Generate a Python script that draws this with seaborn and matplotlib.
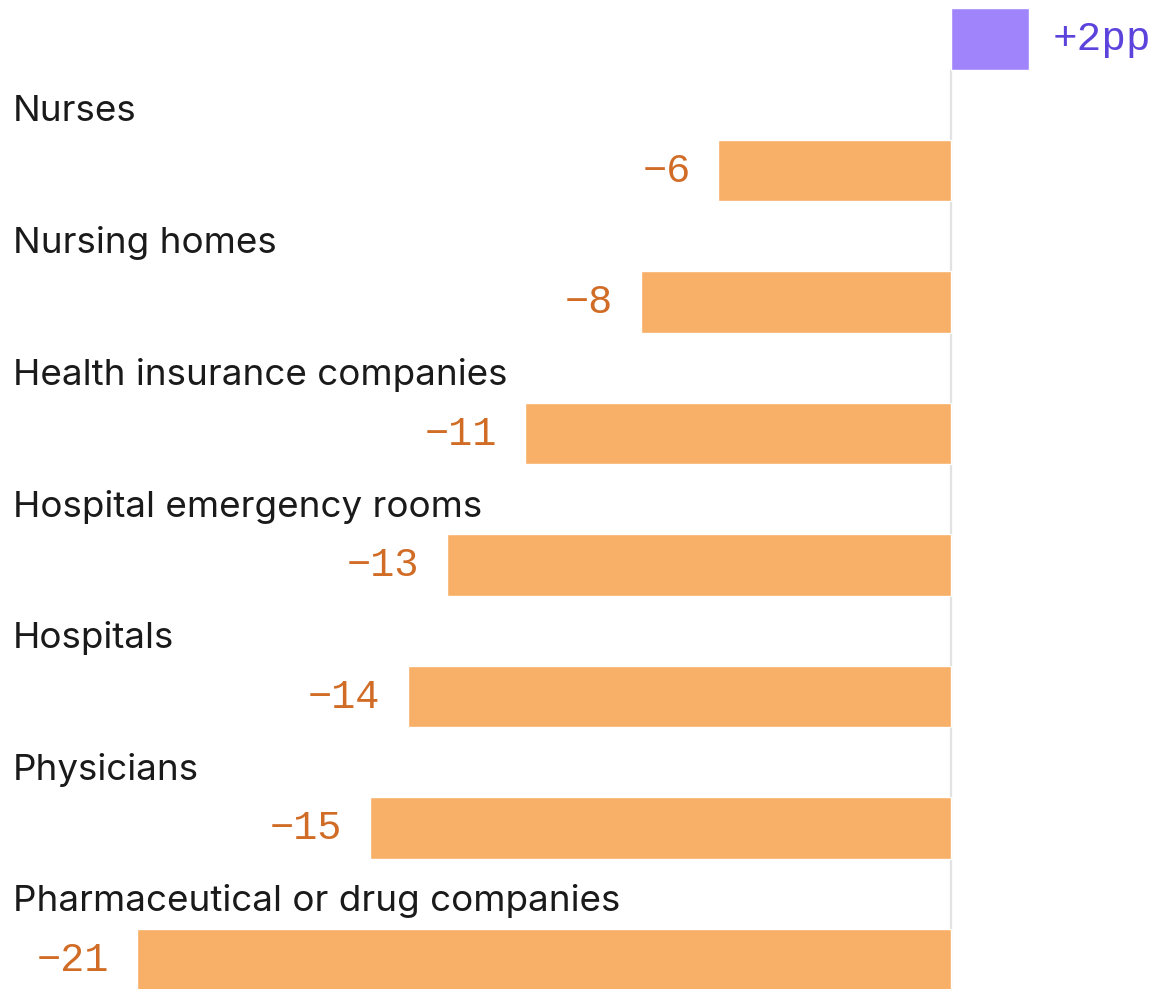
import matplotlib
matplotlib.use("Agg")
import matplotlib.pyplot as plt
import seaborn as sns
import pandas as pd

# Change in trust, percentage points, one row per institution (top row's title sits above the frame)
categories = [None, "Nurses", "Nursing homes", "Health insurance companies",
              "Hospital emergency rooms", "Hospitals", "Physicians",
              "Pharmaceutical or drug companies"]
changes = [2, -6, -8, -11, -13, -14, -15, -21]
value_labels = ["+2pp", "\u22126", "\u22128", "\u221211", "\u221213", "\u221214", "\u221215", "\u221221"]

df = pd.DataFrame({
    "row": range(len(changes)),
    "change": changes,
    "sign": ["up" if v > 0 else "down" for v in changes],
})

bar_colors = {"up": "#A084FC", "down": "#F8AF67"}
text_colors = {"up": "#5B43DB", "down": "#D16C26"}

sns.set_theme(style="white")
plt.rcParams["font.family"] = ["Inter", "DejaVu Sans"]

fig = plt.figure(figsize=(11.58, 9.89), dpi=100)
ax = fig.add_axes([0, 0, 1, 1])

BAR_H = 0.465
# zero guide line, behind the bars
ax.plot([0, 0], [0 + BAR_H / 2, 7.5], color="#E2E2E2", lw=1.6, zorder=0)

sns.barplot(data=df, x="change", y="row", hue="sign", palette=bar_colors,
            orient="h", native_scale=True, dodge=False, width=BAR_H,
            legend=False, saturation=1, ax=ax, zorder=2)

ax.set_xlim(-24.535, 5.34)
ax.set_ylim(7.224, -0.2966)

for i, (cat, v, lab, s) in enumerate(zip(categories, changes, value_labels, df["sign"])):
    if cat:
        ax.text(-24.2, i - 0.445, cat, ha="left", va="center",
                fontsize=26.5, color="#1A1A1A")
    if v > 0:
        ax.text(v + 0.62, i, lab, ha="left", va="center",
                family="Liberation Mono", fontsize=29.5, color=text_colors[s])
    else:
        ax.text(v - 0.72, i, lab, ha="right", va="center",
                family="Liberation Mono", fontsize=29, color=text_colors[s])

ax.set_axis_off()
fig.savefig("out.png", dpi=100)
